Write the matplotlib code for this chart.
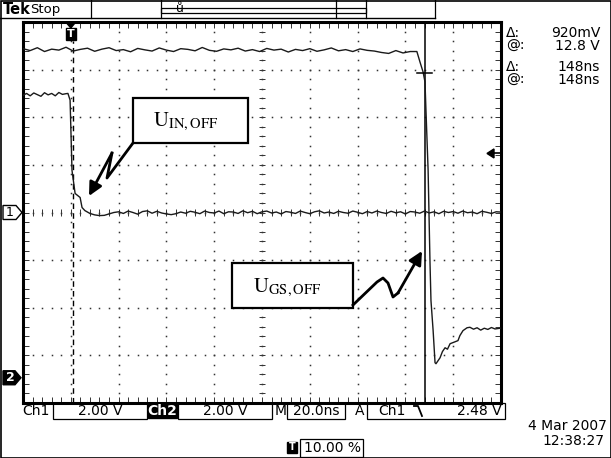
import numpy as np
import matplotlib
matplotlib.use('Agg')
import matplotlib.pyplot as plt
from matplotlib.patches import Rectangle, Polygon
from matplotlib.collections import LineCollection

# ---------------- data (time in ns, voltage in V) ----------------
VOLTS_PER_DIV = 2.0
NS_PER_DIV = 20.0
CH2_OFFSET_DIV = -3.47     # channel 2 ground marker position (div)

ch1_pre_t = [-20, -18.5, -17, -15.5, -14, -12.5, -11, -9.5, -8, -6.5, -5, -3.5, -2, -1.2]
ch1_pre_v = [4.92, 5.00, 4.90, 5.02, 4.95, 4.88, 5.03, 4.94, 5.00, 4.90, 5.04, 4.96, 4.99, 5.00]

ch1_fall_t = [-0.3, 0.5, 1.8, 3.9, 4.7, 5.9, 8, 10, 12, 14, 16, 18]
ch1_fall_v = [4.72, 1.77, 0.80, 0.63, 0.21, 0.08, -0.04, -0.10, -0.13, -0.12, -0.06, 0.0]

ch1_low_t = [20, 22, 24, 26, 28, 30, 32, 34, 36, 38,
             40, 42, 44, 46, 48, 50, 52, 54, 56, 58,
             60, 62, 64, 66, 68, 70, 72, 74, 76, 78,
             80, 82, 84, 86, 88, 90, 92, 94, 96, 98,
             100, 102, 104, 106, 108, 110, 112, 114, 116, 118,
             120, 122, 124, 126, 128, 130, 132, 134, 136, 138,
             140, 142, 144, 146, 148, 150, 152, 154, 156, 158,
             160, 162, 164, 166, 168, 170, 172, 174, 176, 178, 179.6]
ch1_low_v = [0.03, -0.04, 0.06, 0.00, -0.07, 0.04, 0.07, -0.03, 0.05, -0.02,
             -0.06, -0.09, -0.05, 0.02, -0.03, 0.05, 0.01, -0.05, 0.06, 0.00,
             -0.02, 0.06, -0.05, 0.03, 0.02, -0.04, 0.07, -0.01, 0.05, -0.05,
             0.03, 0.06, -0.02, 0.02, -0.06, 0.04, 0.01, -0.04, 0.06, 0.00,
             -0.05, 0.03, 0.07, -0.02, 0.02, -0.04, 0.05, 0.00, -0.03, 0.06,
             0.01, -0.05, 0.04, -0.02, 0.06, 0.00, -0.04, 0.05, -0.01, 0.03,
             -0.06, 0.04, 0.02, -0.03, 0.06, -0.02, 0.03, -0.05, 0.05, 0.00,
             0.04, -0.03, 0.06, -0.01, 0.02, -0.05, 0.05, 0.01, -0.04, 0.03, 0.02]

ch2_high_t = [-20, -17, -14, -11, -8, -5, -2, 1, 4, 7,
              10, 13, 16, 19, 22, 25, 28, 31, 34, 37,
              40, 43, 46, 49, 52, 55, 58, 61, 64, 67,
              70, 73, 76, 79, 82, 85, 88, 91, 94, 97,
              100, 103, 106, 109, 112, 115, 118, 121, 124, 127,
              130, 133, 136, 139, 142, 144.8]
ch2_high_v = [13.82, 13.74, 13.86, 13.70, 13.80, 13.76, 13.88, 13.72, 13.79, 13.84,
              13.71, 13.80, 13.86, 13.74, 13.78, 13.69, 13.83, 13.77, 13.72, 13.85,
              13.76, 13.70, 13.82, 13.79, 13.73, 13.87, 13.75, 13.71, 13.81, 13.77,
              13.84, 13.72, 13.78, 13.70, 13.83, 13.76, 13.80, 13.68, 13.79, 13.74,
              13.82, 13.71, 13.77, 13.85, 13.73, 13.78, 13.70, 13.81, 13.75, 13.72,
              13.66, 13.62, 13.74, 13.64, 13.70, 13.70]

ch2_fall_t = [146.1, 147.4, 148.2, 148.6, 149.5, 150.3, 150.7, 151.6, 152.4, 152.8,
              154.5, 155.5, 156.6, 157.6, 158.7, 160.5, 162.0, 162.8, 164.1, 165.8]
ch2_fall_v = [13.26, 12.84, 12.42, 11.24, 8.72, 4.80, 3.24, 1.98, 0.63, 0.59,
              0.84, 1.10, 1.26, 1.20, 1.43, 1.50, 1.56, 1.77, 1.98, 2.10]

ch2_tail_t = [167, 168.5, 170, 171.5, 173, 174.5, 176, 177.5, 179.6]
ch2_tail_v = [2.12, 2.04, 2.10, 2.00, 2.08, 2.03, 2.11, 2.05, 2.08]

trigger_t = 0.0
cursor1_t = 1.0
cursor2_t = 148.0
cursor_v = 12.8
trig_level_v = 2.48

readouts = [("\u0394:", "920mV"), ("@:", "12.8 V"), ("\u0394:", "148ns"), ("@:", "148ns")]

# ---------------- figure ----------------
W, H = 611, 458
plt.rcParams['font.family'] = ['DejaVu Sans']
plt.rcParams['mathtext.fontset'] = 'stix'
fig = plt.figure(figsize=(W / 100, H / 100), dpi=100)
fig.patch.set_facecolor('white')

GL, GR, GT, GB = 23, 501, 22, 403
ax = fig.add_axes([GL / W, 1 - GB / H, (GR - GL) / W, (GB - GT) / H])
ax.set_xlim(-20, 180)
ax.set_ylim(-4, 4)
ax.set_xticks([])
ax.set_yticks([])
for s in ax.spines.values():
    s.set_linewidth(2.2)

# graticule dots
gx, gy = [], []
minor_y = np.round(np.arange(-4, 4.001, 0.2), 3)
minor_x = np.round(np.arange(-20, 180.001, 4), 3)
for xm in range(0, 161, 20):
    for y in minor_y[1:-1]:
        gx.append(xm); gy.append(y)
for ym in range(-3, 4):
    for x in minor_x[1:-1]:
        gx.append(x); gy.append(ym)
ax.plot(gx, gy, ls='none', marker='s', ms=1.1, mew=0, color='#333333', zorder=1)

# center and edge ticks
tx = 1.3   # ns half-length
ty = 0.065  # div half-length
segs = []
for y in minor_y[1:-1]:
    segs.append([(80 - tx, y), (80 + tx, y)])
    segs.append([(-20, y), (-20 + 2 * tx, y)])
    segs.append([(180 - 2 * tx, y), (180, y)])
for x in minor_x[1:-1]:
    segs.append([(x, -ty), (x, ty)])
    segs.append([(x, 4 - 2 * ty), (x, 4)])
    segs.append([(x, -4), (x, -4 + 2 * ty)])
ax.add_collection(LineCollection(segs, colors='#333333', linewidths=0.7, zorder=1))


def d1(v):
    return np.asarray(v) / VOLTS_PER_DIV


def d2(v):
    return np.asarray(v) / VOLTS_PER_DIV + CH2_OFFSET_DIV


ch1_t = ch1_pre_t + ch1_fall_t + ch1_low_t
ch1_v = ch1_pre_v + ch1_fall_v + ch1_low_v
ch2_t = ch2_high_t + ch2_fall_t + ch2_tail_t
ch2_v = ch2_high_v + ch2_fall_v + ch2_tail_v
ax.plot(ch1_t, d1(ch1_v), color='#1a1a1a', lw=1.0, zorder=3)
ax.plot(ch2_t, d2(ch2_v), color='#1a1a1a', lw=1.0, zorder=3)

# time cursors (dashed inactive, solid active) and cross marker
ax.plot([cursor1_t, cursor1_t], [-4, 3.6], color='black', lw=1.0, ls=(0, (4, 3)), zorder=2)
ax.axvline(cursor2_t, color='black', lw=1.1, zorder=2)
ax.plot([cursor2_t - 3.3, cursor2_t + 3.3], [d2(cursor_v)] * 2, color='black', lw=1.1, zorder=4)

# ---------------- overlay (pixel coords) ----------------
ov = fig.add_axes([0, 0, 1, 1], zorder=5)
ov.set_xlim(0, W)
ov.set_ylim(H, 0)
ov.axis('off')

K = 'black'
# outer frame
ov.add_patch(Rectangle((0.5, 0.5), W - 1, H - 1, fill=False, ec=K, lw=1.2))

# top bar
ov.text(3, 9, "Tek", fontsize=10.5, fontweight='bold', va='center', ha='left')
ov.text(30, 9, "Stop", fontsize=9.5, va='center', ha='left')
ov.plot([0, 435], [18, 18], color=K, lw=1)
for xv in (91, 161, 336, 366, 435):
    ov.plot([xv, xv], [0, 18], color=K, lw=0.9)
ov.add_patch(Rectangle((161, 7.5), 205, 5, fill=False, ec=K, lw=0.9))
ov.text(180, 9, "\u016f", fontsize=9, va='center', ha='center')

# trigger marker T
trig_px = GL + (trigger_t + 20) / 200 * (GR - GL)
ov.add_patch(Polygon([(trig_px - 5, 22), (trig_px + 5, 22), (trig_px, 28)], closed=True, fc=K, ec=K))
ov.add_patch(Rectangle((trig_px - 5, 28), 10, 12, fc=K, ec=K))
ov.text(trig_px, 34, "T", color='white', fontsize=8, fontweight='bold', ha='center', va='center')

# right readouts
ys = [33, 46, 67, 80]
for (lab, val), yy in zip(readouts, ys):
    ov.text(506, yy, lab, fontsize=10, va='center', ha='left')
    ov.text(600, yy, val, fontsize=10, va='center', ha='right')

# trigger level arrow
ty_px = GT + (4 - d1(trig_level_v)) / 8 * (GB - GT)
ov.add_patch(Polygon([(487, ty_px), (494, ty_px - 4.5), (494, ty_px + 4.5)], closed=True, fc=K, ec=K))
ov.plot([494, 500], [ty_px, ty_px], color=K, lw=1.2)

# channel ground markers
g1 = GT + 4 / 8 * (GB - GT)
ov.add_patch(Polygon([(3, g1 - 7), (16, g1 - 7), (22, g1), (16, g1 + 7), (3, g1 + 7)],
                     closed=True, fc='white', ec=K, lw=1))
ov.text(10, g1, "1", fontsize=9, ha='center', va='center')
g2 = GT + (4 - CH2_OFFSET_DIV) / 8 * (GB - GT)
ov.add_patch(Polygon([(3, g2 - 7), (15, g2 - 7), (21, g2), (15, g2 + 7), (3, g2 + 7)],
                     closed=True, fc=K, ec=K, lw=1))
ov.text(10, g2, "2", fontsize=9, fontweight='bold', color='white', ha='center', va='center')

# bottom status line
by = 411
ov.text(22, by, "Ch1", fontsize=10, va='center', ha='left')
ov.add_patch(Rectangle((53, 403), 94, 16, fill=False, ec=K, lw=0.9))
ov.text(100, by, "2.00 V", fontsize=10, va='center', ha='center')
ov.add_patch(Rectangle((148, 404), 29, 14, fc=K, ec=K))
ov.text(162.5, by, "Ch2", fontsize=10, va='center', ha='center', color='white', fontweight='bold')
ov.add_patch(Rectangle((178, 403), 94, 16, fill=False, ec=K, lw=0.9))
ov.text(225, by, "2.00 V", fontsize=10, va='center', ha='center')
ov.text(275, by, "M", fontsize=10, va='center', ha='left')
ov.add_patch(Rectangle((287, 403), 58, 16, fill=False, ec=K, lw=0.9))
ov.text(316, by, "20.0ns", fontsize=10, va='center', ha='center')
ov.text(355, by, "A", fontsize=10, va='center', ha='left')
ov.add_patch(Rectangle((367, 403), 138, 16, fill=False, ec=K, lw=0.9))
ov.text(378, by, "Ch1", fontsize=10, va='center', ha='left')
ov.plot([414, 418, 422], [406, 406, 416], color=K, lw=1.3)
ov.text(502, by, "2.48 V", fontsize=10, va='center', ha='right')

# date / time
ov.text(607, 426, "4 Mar 2007", fontsize=10, va='center', ha='right')
ov.text(604, 441, "12:38:27", fontsize=10, va='center', ha='right')

# trigger position
ov.add_patch(Rectangle((287, 442), 10, 11, fc=K, ec=K))
ov.text(292, 447.5, "T", color='white', fontsize=7, fontweight='bold', ha='center', va='center')
ov.add_patch(Rectangle((300, 439), 63, 18, fill=False, ec=K, lw=0.9))
ov.text(304, 448, "10.00 %", fontsize=10, va='center', ha='left')

# annotations
ov.add_patch(Rectangle((133, 98), 115, 45, fc='white', ec=K, lw=1.6))
ov.text(153, 122, r'$\mathrm{U}_{\mathrm{IN,OFF}}$', fontsize=15, va='center', ha='left')
ov.plot([133, 107, 112], [143, 178, 153], color=K, lw=2)
ov.annotate('', xy=(89, 196), xytext=(112, 153),
            arrowprops=dict(arrowstyle='-|>', lw=2, color=K, mutation_scale=20,
                            shrinkA=0, shrinkB=0))

ov.add_patch(Rectangle((232, 263), 121, 45, fc='white', ec=K, lw=1.6))
ov.text(253, 288, r'$\mathrm{U}_{\mathrm{GS,OFF}}$', fontsize=15, va='center', ha='left')
ov.plot([353, 377, 383, 388, 393, 398], [305, 282, 278, 283, 297, 293], color=K, lw=2)
ov.annotate('', xy=(422, 251), xytext=(398, 293),
            arrowprops=dict(arrowstyle='-|>', lw=2, color=K, mutation_scale=20,
                            shrinkA=0, shrinkB=0))

fig.savefig('out.png', dpi=100, facecolor='white')
